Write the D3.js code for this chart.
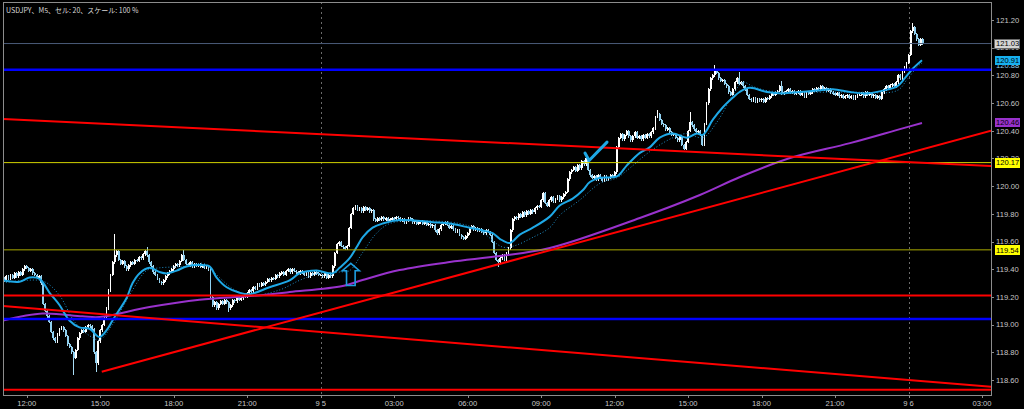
<!DOCTYPE html>
<html>
<head>
<meta charset="utf-8">
<title>USDJPY M5</title>
<script src="https://d3js.org/d3.v7.min.js"></script>
<style>
  html, body { margin: 0; padding: 0; background: #000; }
  svg { display: block; }
  .axis-label { font-family: "Liberation Sans", Arial, sans-serif; font-size: 7.6px; fill: #c8c8c8; }
  .title { font-family: "Noto Sans CJK JP", sans-serif; font-size: 7px; fill: #d8d8d8; }
</style>
</head>
<body>
<div id="chart"></div>
<script>
// 5 minute closes, one row per hour, first bar = 11:00 (9/4)
var startHour = -1;
var firstOpen = 119.33;
var closes = [
  119.34, 119.32, 119.35, 119.33, 119.36, 119.34, 119.37, 119.35, 119.38, 119.36, 119.40, 119.42,
  119.41, 119.39, 119.40, 119.37, 119.36, 119.34, 119.35, 119.30, 119.15, 119.10, 119.06, 119.02,
  118.95, 118.90, 118.88, 118.93, 118.97, 118.98, 118.96, 118.92, 118.86, 118.84, 118.80, 118.76,
  118.82, 118.90, 118.94, 118.96, 118.95, 118.98, 119.00, 118.99, 118.97, 118.80, 118.72, 118.88,
  118.96, 119.00, 119.05, 119.12, 119.25, 119.36, 119.45, 119.50, 119.53, 119.47, 119.44, 119.46,
  119.42, 119.40, 119.43, 119.45, 119.44, 119.47, 119.46, 119.49, 119.48, 119.51, 119.53, 119.50,
  119.45, 119.42, 119.38, 119.36, 119.33, 119.31, 119.30, 119.32, 119.35, 119.37, 119.39, 119.40,
  119.42, 119.44, 119.43, 119.46, 119.50, 119.47, 119.44, 119.43, 119.45, 119.42, 119.44, 119.43,
  119.44, 119.42, 119.43, 119.41, 119.42, 119.40, 119.20, 119.14, 119.16, 119.12, 119.15, 119.17,
  119.15, 119.18, 119.16, 119.12, 119.14, 119.18, 119.17, 119.20, 119.18, 119.19, 119.21, 119.20,
  119.23, 119.25, 119.24, 119.27, 119.26, 119.29, 119.28, 119.30, 119.29, 119.31, 119.33, 119.32,
  119.34, 119.33, 119.36, 119.35, 119.37, 119.38, 119.36, 119.39, 119.40, 119.38, 119.40, 119.39,
  119.38, 119.37, 119.39, 119.38, 119.36, 119.37, 119.35, 119.37, 119.36, 119.38, 119.37, 119.36,
  119.36, 119.35, 119.37, 119.34, 119.36, 119.35, 119.42, 119.52, 119.58, 119.60, 119.57, 119.56,
  119.55, 119.57, 119.70, 119.80, 119.84, 119.86, 119.83, 119.84, 119.82, 119.85, 119.83, 119.84,
  119.82, 119.83, 119.76, 119.75, 119.77, 119.76, 119.78, 119.76, 119.77, 119.75, 119.76, 119.77,
  119.76, 119.78, 119.77, 119.75, 119.76, 119.74, 119.75, 119.77, 119.76, 119.74, 119.75, 119.73,
  119.74, 119.75, 119.73, 119.74, 119.72, 119.73, 119.71, 119.72, 119.68, 119.66, 119.69, 119.72,
  119.73, 119.74, 119.72, 119.70, 119.71, 119.69, 119.67, 119.68, 119.65, 119.63, 119.62, 119.64,
  119.66, 119.70, 119.71, 119.69, 119.70, 119.68, 119.69, 119.67, 119.66, 119.68, 119.67, 119.65,
  119.60, 119.52, 119.47, 119.45, 119.48, 119.50, 119.47, 119.52, 119.55, 119.68, 119.76, 119.78,
  119.77, 119.80, 119.78, 119.81, 119.79, 119.82, 119.80, 119.83, 119.81, 119.84, 119.86, 119.85,
  119.90, 119.95, 119.88, 119.86, 119.90, 119.92, 119.89, 119.91, 119.93, 119.90, 119.92, 119.94,
  119.96, 120.05, 120.10, 120.12, 120.14, 120.11, 120.15, 120.13, 120.18, 120.16, 120.20, 120.12,
  120.08, 120.06, 120.07, 120.05, 120.08, 120.06, 120.04, 120.07, 120.05, 120.06, 120.08, 120.07,
  120.10, 120.28, 120.35, 120.38, 120.34, 120.37, 120.40, 120.36, 120.33, 120.36, 120.39, 120.35,
  120.36, 120.34, 120.37, 120.35, 120.38, 120.36, 120.39, 120.42, 120.50, 120.52, 120.48, 120.45,
  120.44, 120.41, 120.42, 120.39, 120.37, 120.38, 120.35, 120.33, 120.36, 120.30, 120.27, 120.32,
  120.40, 120.46, 120.44, 120.41, 120.39, 120.40, 120.37, 120.30, 120.45, 120.60, 120.70, 120.78,
  120.80, 120.84, 120.82, 120.78, 120.76, 120.77, 120.74, 120.72, 120.68, 120.66, 120.70, 120.75,
  120.78, 120.74, 120.75, 120.72, 120.70, 120.66, 120.63, 120.62, 120.64, 120.61, 120.63, 120.62,
  120.63, 120.61, 120.64, 120.63, 120.65, 120.67, 120.66, 120.68, 120.69, 120.72, 120.67, 120.68,
  120.69, 120.70, 120.68, 120.69, 120.67, 120.68, 120.69, 120.66, 120.67, 120.65, 120.68, 120.67,
  120.68, 120.70, 120.69, 120.71, 120.70, 120.72, 120.70, 120.71, 120.69, 120.70, 120.68, 120.67,
  120.66, 120.67, 120.65, 120.66, 120.64, 120.65, 120.66, 120.64, 120.65, 120.63, 120.65, 120.66,
  120.66, 120.67, 120.65, 120.68, 120.66, 120.67, 120.65, 120.66, 120.64, 120.65, 120.63, 120.68,
  120.70, 120.72, 120.71, 120.73, 120.74, 120.72, 120.75, 120.80, 120.78, 120.83, 120.86, 120.89,
  120.95, 121.12, 121.15, 121.10, 121.06, 121.02, 121.06, 121.03
];

// long wicks (bar number, wick end price)
var spikeBars   = [35, 46, 55, 71, 89, 111, 243, 286, 321, 337, 349, 361, 382, 446];
var spikeValues = [118.65, 118.67, 119.65, 119.55, 119.53, 119.10, 119.43, 120.22, 120.54, 120.53, 120.87, 120.82, 120.75, 121.17];

// moving averages (hour from 12:00 9/4, price)
var maFastHours = [-0.97, -0.30, 0.11, 0.52, 0.93, 1.34, 1.74, 2.15, 2.56, 2.97, 3.26, 3.50, 3.79, 4.07, 4.32, 4.60, 5.01, 5.42, 5.71, 6.12, 6.52, 7.05, 7.46, 7.75, 8.16, 8.69, 9.10, 9.91, 10.73, 11.14, 11.83, 12.49, 12.77, 13.18, 13.47, 13.71, 14.12, 14.53, 15.22, 16.57, 17.27, 18.08, 18.61, 19.02, 19.31, 19.72, 20.13, 20.66, 21.35, 21.76, 22.29, 22.70, 22.99, 23.40, 24.09, 24.50, 25.03, 25.43, 25.84, 26.38, 26.95, 27.36, 27.60, 28.01, 28.42, 28.83, 29.10, 29.52, 30.22, 30.87, 31.56, 32.26, 32.91, 33.61, 34.30, 34.95, 35.53, 35.85, 36.18, 36.55];
var maFastValues = [119.32, 119.31, 119.34, 119.33, 119.23, 119.14, 119.03, 118.98, 118.97, 118.91, 118.96, 119.03, 119.11, 119.19, 119.30, 119.37, 119.41, 119.38, 119.37, 119.39, 119.42, 119.43, 119.42, 119.34, 119.27, 119.23, 119.22, 119.27, 119.32, 119.37, 119.39, 119.37, 119.41, 119.48, 119.56, 119.63, 119.70, 119.73, 119.755, 119.74, 119.73, 119.70, 119.68, 119.66, 119.62, 119.59, 119.65, 119.70, 119.78, 119.86, 119.91, 119.97, 120.03, 120.06, 120.07, 120.15, 120.24, 120.28, 120.35, 120.38, 120.35, 120.38, 120.37, 120.48, 120.57, 120.64, 120.68, 120.71, 120.68, 120.67, 120.68, 120.69, 120.70, 120.68, 120.67, 120.69, 120.72, 120.78, 120.85, 120.91];

var maSlowHours = [-0.97, -0.09, 0.72, 1.34, 1.95, 2.56, 2.97, 3.50, 4.32, 4.89, 5.42, 6.44, 7.26, 7.75, 8.40, 9.10, 10.32, 11.14, 11.96, 12.77, 13.18, 13.71, 14.28, 14.82, 16.04, 17.67, 18.49, 19.43, 19.92, 20.66, 21.35, 21.76, 22.58, 23.40, 24.09, 24.62, 25.44, 26.38, 26.95, 27.60, 28.17, 28.83, 29.24, 29.65, 30.22, 31.56, 33.61, 35.53, 35.94, 36.35, 36.55];
var maSlowValues = [119.30, 119.32, 119.31, 119.21, 119.02, 118.92, 118.89, 119.00, 119.25, 119.39, 119.41, 119.42, 119.44, 119.36, 119.26, 119.21, 119.25, 119.32, 119.37, 119.38, 119.39, 119.52, 119.66, 119.73, 119.75, 119.73, 119.68, 119.56, 119.57, 119.63, 119.70, 119.79, 119.90, 120.02, 120.06, 120.13, 120.25, 120.35, 120.38, 120.35, 120.46, 120.66, 120.75, 120.72, 120.69, 120.68, 120.68, 120.69, 120.77, 120.86, 120.89];

var maLongHours  = [-0.97, 0.64, 2.27, 2.97, 5.01, 7.05, 9.10, 10.73, 12.90, 13.71, 15.22, 17.27, 19.31, 21.35, 25.03, 27.48, 29.12, 31.16, 33.61, 35.65, 36.55];
var maLongValues = [119.03, 119.08, 119.06, 119.055, 119.127, 119.18, 119.206, 119.235, 119.279, 119.322, 119.394, 119.452, 119.495, 119.553, 119.77, 119.936, 120.066, 120.203, 120.311, 120.412, 120.456];

// horizontal levels
var levelPrices = [121.03, 120.84, 120.17, 119.54, 119.21, 119.04, 118.53];
var levelKinds  = ["last", "blue", "yellow", "olive", "red", "blue", "red"];

// trend lines
var trendStartHours  = [-0.97, 3.06, -0.97];
var trendStartPrices = [120.485, 118.66, 119.134];
var trendEndHours    = [39.37, 39.37, 39.37];
var trendEndPrices   = [120.145, 120.40, 118.551];

// marks
var arrowHour = 13.23, arrowTip = 119.442, arrowNeck = 119.389, arrowBase = 119.283;
var checkHours  = [22.79, 22.96, 23.69];
var checkPrices = [120.239, 120.185, 120.318];

// axes
var priceTicks = [118.60, 118.80, 119.00, 119.20, 119.40, 119.60, 119.80, 120.00, 120.20, 120.40, 120.60, 120.80, 121.00, 121.20];
var timeTicks  = [0, 3, 6, 9, 12, 15, 18, 21, 24, 27, 30, 33, 36, 39];
var timeLabels = ["12:00", "15:00", "18:00", "21:00", "9 5", "03:00", "06:00", "09:00", "12:00", "15:00", "18:00", "21:00", "9 6", "03:00"];
var dayBreaks  = [12, 36];

var boxPrices = [121.03, 120.91, 120.46, 120.17, 119.54];
var boxKinds  = ["last", "fast", "long", "yellow", "yellow"];

var W = 1024, H = 409;
var pLeft = 3, pRight = 991, pTop = 2, pBottom = 395;

var x = d3.scaleLinear().domain([0, 39]).range([26.8, 982]);
var y = d3.scaleLinear().domain([118.60, 121.20]).range([380, 20]);

var svg = d3.select("#chart").append("svg")
  .attr("width", W).attr("height", H);

svg.append("rect").attr("width", W).attr("height", H).attr("fill", "#000");

svg.append("clipPath").attr("id", "plotclip")
  .append("rect").attr("x", pLeft).attr("y", pTop).attr("width", pRight - pLeft).attr("height", pBottom - pTop);

var plot = svg.append("g").attr("clip-path", "url(#plotclip)");

// day separators
plot.selectAll(".daybreak").data(dayBreaks).enter().append("line")
  .attr("x1", function(d) { return Math.round(x(d)) + 0.5; })
  .attr("x2", function(d) { return Math.round(x(d)) + 0.5; })
  .attr("y1", pTop).attr("y2", pBottom)
  .attr("stroke", "#6a6a6a").attr("stroke-dasharray", "2,3");

// candles
var candles = closes.map(function(c, k) {
  var o = k === 0 ? firstOpen : closes[k - 1];
  var hi = Math.max(o, c), lo = Math.min(o, c);
  var s = spikeBars.indexOf(k);
  if (s >= 0) {
    hi = Math.max(hi, spikeValues[s]);
    lo = Math.min(lo, spikeValues[s]);
  }
  return {h: startHour + k / 12, o: o, c: c, hi: hi, lo: lo};
});

var cg = plot.append("g").attr("shape-rendering", "crispEdges");
cg.selectAll(".wick").data(candles).enter().append("line")
  .attr("x1", function(d) { return x(d.h); })
  .attr("x2", function(d) { return x(d.h); })
  .attr("y1", function(d) { return y(d.hi) - 1; })
  .attr("y2", function(d) { return y(d.lo) + 1.5; })
  .attr("stroke", function(d) { return d.c >= d.o ? "#ffffff" : "#a8dcf5"; })
  .attr("stroke-width", 1);

cg.selectAll(".body").data(candles).enter().append("rect")
  .attr("x", function(d) { return x(d.h) - 0.9; })
  .attr("width", 1.9)
  .attr("y", function(d) { return y(Math.max(d.o, d.c)); })
  .attr("height", function(d) { return Math.max(1.5, y(Math.min(d.o, d.c)) - y(Math.max(d.o, d.c))); })
  .attr("fill", function(d) { return d.c >= d.o ? "#ffffff" : "#8fd0f0"; });

// moving averages
function maLine(hours, values) {
  return d3.line()
    .x(function(d, i) { return x(hours[i]); })
    .y(function(d, i) { return y(values[i]); })
    .curve(d3.curveCatmullRom.alpha(0.5))(values);
}

plot.append("path").attr("d", maLine(maLongHours, maLongValues))
  .attr("fill", "none").attr("stroke", "#9932cc").attr("stroke-width", 2);

plot.append("path").attr("d", maLine(maSlowHours, maSlowValues))
  .attr("fill", "none").attr("stroke", "#1e8ec8").attr("stroke-width", 1)
  .attr("stroke-dasharray", "1,2");

plot.append("path").attr("d", maLine(maFastHours, maFastValues))
  .attr("fill", "none").attr("stroke", "#1ea8e6").attr("stroke-width", 2);

// horizontal levels
var levelStyle = {
  last:   {stroke: "#4a5a78", width: 1},
  blue:   {stroke: "#0000ff", width: 2.5},
  yellow: {stroke: "#d2d200", width: 1},
  olive:  {stroke: "#a8a800", width: 1},
  red:    {stroke: "#ff0000", width: 2}
};
plot.selectAll(".level").data(levelPrices).enter().append("line")
  .attr("x1", pLeft).attr("x2", pRight)
  .attr("y1", function(d) { return y(d); })
  .attr("y2", function(d) { return y(d); })
  .attr("stroke", function(d, i) { return levelStyle[levelKinds[i]].stroke; })
  .attr("stroke-width", function(d, i) { return levelStyle[levelKinds[i]].width; });

// trend lines
plot.selectAll(".trend").data(trendStartHours).enter().append("line")
  .attr("x1", function(d, i) { return x(trendStartHours[i]); })
  .attr("y1", function(d, i) { return y(trendStartPrices[i]); })
  .attr("x2", function(d, i) { return x(trendEndHours[i]); })
  .attr("y2", function(d, i) { return y(trendEndPrices[i]); })
  .attr("stroke", "#ff0000").attr("stroke-width", 2);

// up arrow
var ax = x(arrowHour);
var arrowPts = [
  [ax, y(arrowTip)], [ax + 8.5, y(arrowNeck)], [ax + 4.3, y(arrowNeck)], [ax + 4.3, y(arrowBase)],
  [ax - 4.3, y(arrowBase)], [ax - 4.3, y(arrowNeck)], [ax - 8.5, y(arrowNeck)]
];
plot.append("polygon")
  .attr("points", arrowPts.map(function(p) { return p.join(","); }).join(" "))
  .attr("fill", "none").attr("stroke", "#1e9ee0").attr("stroke-width", 1.6);

// check mark
plot.append("path")
  .attr("d", d3.line()
    .x(function(d, i) { return x(checkHours[i]); })
    .y(function(d, i) { return y(checkPrices[i]); })(checkPrices))
  .attr("fill", "none").attr("stroke", "#1ea8e6").attr("stroke-width", 3)
  .attr("stroke-linecap", "round").attr("stroke-linejoin", "round");

// frame
var frame = svg.append("g").attr("shape-rendering", "crispEdges");
frame.append("rect")
  .attr("x", pLeft + 0.5).attr("y", pTop + 0.5)
  .attr("width", pRight - pLeft).attr("height", pBottom - pTop)
  .attr("fill", "none").attr("stroke", "#8c8c8c");

// price axis
frame.selectAll(".ptick").data(priceTicks).enter().append("line")
  .attr("x1", pRight).attr("x2", pRight + 3)
  .attr("y1", function(d) { return Math.round(y(d)) + 0.5; })
  .attr("y2", function(d) { return Math.round(y(d)) + 0.5; })
  .attr("stroke", "#8c8c8c");
svg.selectAll(".plabel").data(priceTicks).enter().append("text")
  .attr("class", "axis-label")
  .attr("x", pRight + 5)
  .attr("y", function(d) { return y(d); })
  .attr("dy", "0.36em")
  .text(function(d) { return d.toFixed(2); });

// partly hidden label under the fast MA box
svg.append("text").attr("class", "axis-label")
  .attr("x", pRight + 5).attr("y", y(120.875)).attr("dy", "0.36em")
  .style("fill", "#8fd0f0").text("120.88");

var boxStyle = {
  last:   {fill: "#d4d4d4", text: "#000"},
  fast:   {fill: "#16b0f0", text: "#000"},
  long:   {fill: "#9932cc", text: "#000"},
  yellow: {fill: "#ffff00", text: "#000"}
};
var boxes = svg.selectAll(".pbox").data(boxPrices).enter().append("g")
  .attr("transform", function(d) { return "translate(" + (pRight + 3) + "," + y(d) + ")"; });
boxes.append("rect")
  .attr("x", 0.5).attr("y", -4.5).attr("width", 25).attr("height", 9.5)
  .attr("fill", function(d, i) { return boxStyle[boxKinds[i]].fill; })
  .attr("stroke", function(d, i) { return boxKinds[i] === "last" ? "#6a6a6a" : "none"; })
  .attr("shape-rendering", "crispEdges");
boxes.append("text").attr("class", "axis-label")
  .attr("x", 2).attr("dy", "0.36em")
  .style("fill", function(d, i) { return boxStyle[boxKinds[i]].text; })
  .text(function(d) { return d.toFixed(2); });

// time axis
frame.selectAll(".ttick").data(timeTicks).enter().append("line")
  .attr("x1", function(d) { return Math.round(x(d)) + 0.5; })
  .attr("x2", function(d) { return Math.round(x(d)) + 0.5; })
  .attr("y1", pBottom).attr("y2", pBottom + 3)
  .attr("stroke", "#8c8c8c");
svg.selectAll(".tlabel").data(timeTicks).enter().append("text")
  .attr("class", "axis-label")
  .attr("x", function(d) { return x(d); })
  .attr("y", 406)
  .attr("text-anchor", "middle")
  .text(function(d, i) { return timeLabels[i]; });

// title
svg.append("text").attr("class", "title")
  .attr("x", 6).attr("y", 12.5)
  .text("USDJPY、M5、セル: 20、スケール: 100 %");
</script>
</body>
</html>
